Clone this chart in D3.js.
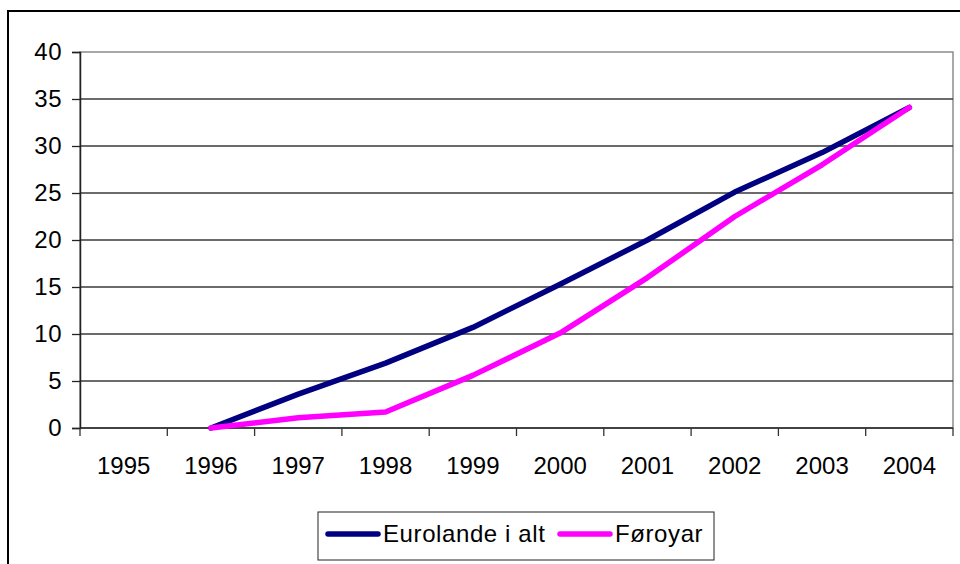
<!DOCTYPE html>
<html>
<head>
<meta charset="utf-8">
<script src="https://cdn.jsdelivr.net/npm/d3@7"></script>
<style>
  body { margin: 0; background: #fff; }
  text { font-family: "Liberation Sans", Arial, sans-serif; }
</style>
</head>
<body>
<div id="chart"></div>
<script>

// data
var years = ["1995", "1996", "1997", "1998", "1999", "2000", "2001", "2002", "2003", "2004"];
var eurolande = [null, 0, 3.6, 6.9, 10.7, 15.3, 20.0, 25.1, 29.3, 34.1];
var foroyar = [null, 0, 1.1, 1.7, 5.6, 10.1, 16.0, 22.5, 28.0, 34.1];
var yTicks = [0, 5, 10, 15, 20, 25, 30, 35, 40];
var seriesNames = ["Eurolande i alt", "Føroyar"];
var seriesColors = ["#000080", "#ff00ff"];

var W = 960, H = 564;
var margin = {top: 52, right: 7, bottom: 136, left: 80},
    width = W - margin.left - margin.right,
    height = H - margin.top - margin.bottom;

var svg = d3.select("#chart").append("svg")
    .attr("width", W)
    .attr("height", H);

// outer frame (runs off the right and bottom edges)
svg.append("rect")
    .attr("x", 8)
    .attr("y", 11)
    .attr("width", 1000)
    .attr("height", 600)
    .attr("fill", "none")
    .attr("stroke", "#000")
    .attr("stroke-width", 2);

var g = svg.append("g")
    .attr("transform", "translate(" + margin.left + "," + margin.top + ")");

var x = d3.scaleBand()
    .domain(years)
    .range([0, width])
    .padding(0);

var y = d3.scaleLinear()
    .domain([0, 40])
    .range([height, 0]);

// plot area border
g.append("rect")
    .attr("x", 0)
    .attr("y", 0)
    .attr("width", width)
    .attr("height", height)
    .attr("fill", "none")
    .attr("stroke", "#8c8c8c")
    .attr("stroke-width", 1.5);

// gridlines
g.selectAll(".grid")
    .data(yTicks.filter(function(d) { return d > 0 && d < 40; }))
  .enter().append("line")
    .attr("x1", 0)
    .attr("x2", width)
    .attr("y1", function(d) { return y(d); })
    .attr("y2", function(d) { return y(d); })
    .attr("stroke", "#3a3a3a")
    .attr("stroke-width", 1.3);

// y axis
var yAxis = g.append("g")
    .call(d3.axisLeft(y).tickValues(yTicks).tickSize(8).tickPadding(10));
yAxis.select(".domain").attr("stroke", "#222").attr("stroke-width", 1.5);
yAxis.selectAll(".tick line").attr("stroke", "#222").attr("stroke-width", 1.3);
yAxis.selectAll("text")
    .attr("font-size", "24px")
    .attr("letter-spacing", "0.5px")
    .attr("fill", "#000");

// x axis: ticks sit between categories
var xAxis = g.append("g")
    .attr("transform", "translate(0," + height + ")");
xAxis.append("line")
    .attr("x1", 0)
    .attr("x2", width)
    .attr("stroke", "#222")
    .attr("stroke-width", 1.5);
var edges = years.map(function(d) { return x(d); }).concat([width]);
xAxis.selectAll(".xt")
    .data(edges)
  .enter().append("line")
    .attr("x1", function(d) { return d; })
    .attr("x2", function(d) { return d; })
    .attr("y1", 0)
    .attr("y2", 8)
    .attr("stroke", "#333")
    .attr("stroke-width", 1.3);
xAxis.selectAll(".xl")
    .data(years)
  .enter().append("text")
    .attr("x", function(d) { return x(d) + x.bandwidth() / 2; })
    .attr("y", 46)
    .attr("text-anchor", "middle")
    .attr("font-size", "24px")
    .attr("fill", "#000")
    .text(function(d) { return d; });

// lines
var line = d3.line()
    .defined(function(d) { return d != null; })
    .x(function(d, i) { return x(years[i]) + x.bandwidth() / 2; })
    .y(function(d) { return y(d); });

[eurolande, foroyar].forEach(function(s, i) {
  g.append("path")
      .datum(s)
      .attr("fill", "none")
      .attr("stroke", seriesColors[i])
      .attr("stroke-width", 5.5)
      .attr("stroke-linejoin", "round")
      .attr("stroke-linecap", "round")
      .attr("d", line);
});

// legend
var legend = svg.append("g");
legend.append("rect")
    .attr("x", 318)
    .attr("y", 512)
    .attr("width", 396)
    .attr("height", 48)
    .attr("fill", "#fff")
    .attr("stroke", "#222")
    .attr("stroke-width", 1);

var legendX = [328, 560];
seriesNames.forEach(function(name, i) {
  legend.append("line")
      .attr("x1", legendX[i])
      .attr("x2", legendX[i] + 50)
      .attr("y1", 534)
      .attr("y2", 534)
      .attr("stroke", seriesColors[i])
      .attr("stroke-width", 5.5)
      .attr("stroke-linecap", "round");
  legend.append("text")
      .attr("x", legendX[i] + 55)
      .attr("y", 542)
      .attr("font-size", "24px")
      .attr("letter-spacing", "0.6px")
      .attr("fill", "#000")
      .text(name);
});

</script>
</body>
</html>
